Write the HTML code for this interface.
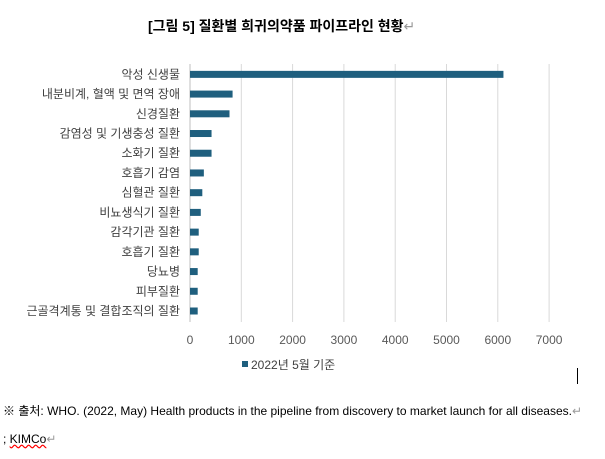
<!DOCTYPE html>
<html><head><meta charset="utf-8"><style>
body{margin:0;background:#fff;font-family:"Liberation Sans","Noto Sans CJK KR",sans-serif;}
.t{position:absolute;white-space:nowrap}
</style></head><body>
<div style="position:relative;width:605px;height:459px;overflow:hidden">
<div class="t" style="left:148px;top:16px;font-size:14px;font-weight:bold;color:#000">[그림 5] 질환별 희귀의약품 파이프라인 현황<span style="color:#999;font-weight:normal">↵</span></div>
<svg id="c" width="605" height="459" style="position:absolute;left:0;top:0"></svg>
<div class="t" style="left:3px;top:402px;font-size:12px;color:#000">※ 출처: WHO. (2022, May) Health products in the pipeline from discovery to market launch for all diseases.<span style="color:#999">↵</span></div>
<div class="t" style="left:3px;top:432px;font-size:12px;color:#000">; <span style="text-decoration:underline wavy red">KIMCo</span><span style="color:#999">↵</span></div>
<div style="position:absolute;left:577px;top:368px;width:1px;height:16px;background:#000"></div>
</div>
<script>
const categories=["악성 신생물","내분비계, 혈액 및 면역 장애","신경질환","감염성 및 기생충성 질환","소화기 질환","호흡기 감염","심혈관 질환","비뇨생식기 질환","감각기관 질환","호흡기 질환","당뇨병","피부질환","근골격계통 및 결합조직의 질환"];
const values=[6110,830,770,420,420,270,240,210,170,170,150,150,150];
const ticks=[0,1000,2000,3000,4000,5000,6000,7000];
const NS="http://www.w3.org/2000/svg";
const svg=document.getElementById('c');
const x0=190,per=0.0513,plotTop=64.5,rowH=19.72;
const xs=v=>x0+v*per;
const yc=i=>plotTop+rowH*(i+0.5);
function mk(t,a){const e=document.createElementNS(NS,t);for(const k in a)e.setAttribute(k,a[k]);svg.appendChild(e);return e;}
ticks.forEach(t=>{
 const g=mk('line',{x1:xs(t),x2:xs(t),y1:64,y2:322,stroke:t===0?'#bfbfbf':'#d9d9d9','stroke-width':1});
 
 
 const l=mk('text',{x:xs(t),y:344,'text-anchor':'middle','font-size':12,fill:'#595959','font-family':'Liberation Sans, sans-serif'});
 l.textContent=t;
 
 
});
categories.forEach((c,i)=>{
 const r=mk('rect',{x:x0,y:yc(i)-3.5,width:xs(values[i])-x0,height:7,fill:'#1f5f7e'});
 
 
 const l=mk('text',{x:180,y:yc(i)+4,'text-anchor':'end','font-size':12,fill:'#404040','font-family':'Liberation Sans, Noto Sans CJK KR, sans-serif'});
 l.textContent=c;
 
 
});
const ls=mk('rect',{x:242,y:361,width:6,height:6,fill:'#1f5f7e'});


const lt=mk('text',{x:251,y:369,'font-size':12,fill:'#404040','font-family':'Liberation Sans, Noto Sans CJK KR, sans-serif'});
lt.textContent='2022년 5월 기준';


</script>
</body></html>
